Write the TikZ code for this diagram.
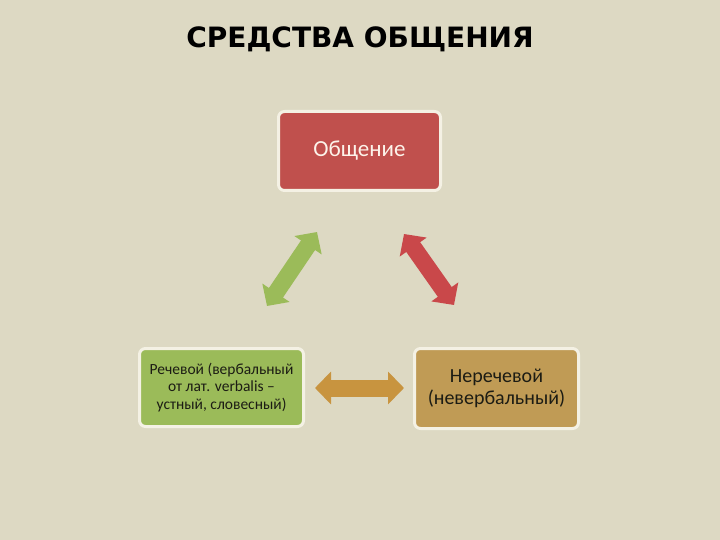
\documentclass[tikz,border=0pt]{standalone}
\usepackage{fontspec}
\setmainfont{Carlito}
\newfontfamily\titlefont{DejaVu Sans}
\usetikzlibrary{arrows.meta}
\definecolor{bg}{HTML}{DDD9C3}
\definecolor{boxred}{HTML}{C0504D}
\definecolor{boxgreen}{HTML}{9BBB59}
\definecolor{boxtan}{HTML}{C09B55}
\definecolor{rim}{HTML}{F4F1E4}
\definecolor{arrgreen}{HTML}{9BBB59}
\definecolor{arrred}{HTML}{C9484A}
\definecolor{arrtan}{HTML}{C8943F}
\definecolor{txtlight}{HTML}{FDF3EA}
\definecolor{txtdark}{HTML}{1C1C14}
\begin{document}
\begin{tikzpicture}[x=1pt,y=-1pt,
  box/.style={draw=rim, line width=3pt, rounded corners=6pt, inner sep=0pt, outer sep=0pt, align=center},
  bigarrow/.style={line width=17pt, draw=#1,
    {Triangle[length=16pt,width=32pt]}-{Triangle[length=16pt,width=32pt]}}
  ]
\fill[bg] (0,0) rectangle (720,540);
\useasboundingbox (0,0) rectangle (720,540);
\node (title) at (360,39) {\titlefont\bfseries\fontsize{28}{34}\selectfont СРЕДСТВА ОБЩЕНИЯ};
\node[box, fill=boxred, minimum width=162pt, minimum height=79pt, text=txtlight,
  font=\fontsize{23}{27}\selectfont] (top) at (359.5,151) {Общение};
\node[box, fill=boxgreen, minimum width=164pt, minimum height=78pt, text=txtdark,
  font=\fontsize{15.5}{17.5}\selectfont] (left) at (221.5,387.5)
  {Речевой (вербальный\\от лат. verbalis –\\устный, словесный)};
\node[box, fill=boxtan, minimum width=164pt, minimum height=80pt, text=txtdark,
  font=\fontsize{20}{22}\selectfont] (right) at (496.5,388.5)
  {Неречевой\\(невербальный)};
\coordinate (ga) at (317,232);
\coordinate (gb) at (267,306);
\coordinate (ra) at (404,234);
\coordinate (rb) at (454,305);
\coordinate (ta) at (315,388);
\coordinate (tb) at (404,388);
\draw[bigarrow=arrgreen] (gb) -- (ga);
\draw[bigarrow=arrred] (ra) -- (rb);
\draw[bigarrow=arrtan] (ta) -- (tb);
\end{tikzpicture}
\end{document}
